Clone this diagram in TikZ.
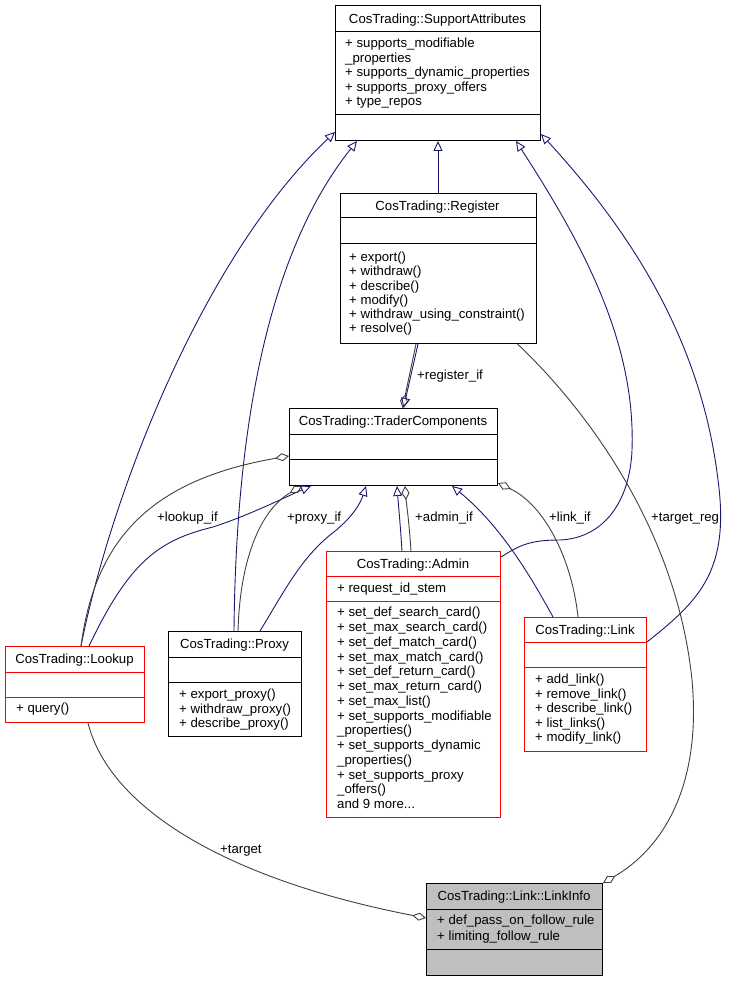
\documentclass[tikz,border=0pt]{standalone}
\usepackage{fontspec}
\setmainfont{Liberation Sans}
\usetikzlibrary{arrows.meta}
\definecolor{navy}{HTML}{191970}
\definecolor{dgray}{HTML}{404040}
\definecolor{boxgray}{HTML}{BFBFBF}
\definecolor{boxred}{HTML}{FF0000}
\begin{document}
\begin{tikzpicture}[x=1pt,y=-1pt,
  font=\fontsize{13.2}{14.5}\selectfont,
  cls/.style={draw, line width=1pt, inner sep=0pt, anchor=north west},
  txt/.style={anchor=west, inner sep=0pt, text height=9.4pt, text depth=0pt},
  ttl/.style={anchor=center, inner sep=0pt, text height=9.4pt, text depth=0pt},
  inh/.style={draw=navy, line width=0.9pt, -{Triangle[open, length=10pt, width=9pt]}},
  agg/.style={draw=dgray, line width=0.9pt, -{Diamond[open, length=14pt, width=8pt]}},
  elbl/.style={anchor=west, inner sep=0pt, text height=9.4pt, text depth=0pt}]
\useasboundingbox (0,0) rectangle (730,981);

% ---------- SupportAttributes
\node[cls, minimum width=205pt, minimum height=135pt] (sa) at (335,5) {};
\draw[line width=1pt] (sa.north west) ++(0,27) -- ++(205,0);
\draw[line width=1pt] (sa.north west) ++(0,110) -- ++(205,0);
\node[ttl] (sat) at (437.5,18.5) {CosTrading::SupportAttributes};
\foreach \t [count=\i from 0] in {{+ supports\_modifiable},{\_properties},{+ supports\_dynamic\_properties},{+ supports\_proxy\_offers},{+ type\_repos}}
  \node[txt] at (345,{43+14.5*\i}) {\t};

% ---------- Register
\node[cls, minimum width=196pt, minimum height=150pt] (reg) at (339.5,193) {};
\draw[line width=1pt] (reg.north west) ++(0,25) -- ++(196,0);
\draw[line width=1pt] (reg.north west) ++(0,51) -- ++(196,0);
\node[ttl] (regt) at (437.5,205.5) {CosTrading::Register};
\foreach \t [count=\i from 0] in {{+ export()},{+ withdraw()},{+ describe()},{+ modify()},{+ withdraw\_using\_constraint()},{+ resolve()}}
  \node[txt] at (349,{257+14.2*\i}) {\t};

% ---------- TraderComponents
\node[cls, minimum width=208pt, minimum height=77pt] (tc) at (289,408) {};
\draw[line width=1pt] (tc.north west) ++(0,26) -- ++(208,0);
\draw[line width=1pt] (tc.north west) ++(0,51) -- ++(208,0);
\node[ttl] (tct) at (393,421) {CosTrading::TraderComponents};

% ---------- Admin
\node[cls, draw=boxred, minimum width=174pt, minimum height=266pt] (admin) at (326,551) {};
\draw[boxred, line width=1pt] (admin.north west) ++(0,25) -- ++(174,0);
\draw[boxred, line width=1pt] (admin.north west) ++(0,50) -- ++(174,0);
\node[ttl] (admint) at (413,563.5) {CosTrading::Admin};
\node[txt] at (337,588) {+ request\_id\_stem};
\foreach \t [count=\i from 0] in {{+ set\_def\_search\_card()},{+ set\_max\_search\_card()},{+ set\_def\_match\_card()},{+ set\_max\_match\_card()},{+ set\_def\_return\_card()},{+ set\_max\_return\_card()},{+ set\_max\_list()},{+ set\_supports\_modifiable},{\_properties()},{+ set\_supports\_dynamic},{\_properties()},{+ set\_supports\_proxy},{\_offers()}}
  \node[txt] at (337,{612+14.77*\i}) {\t};
\node[txt] at (337,804) {and 9 more...};

% ---------- Lookup
\node[cls, draw=boxred, minimum width=139pt, minimum height=76pt] (lookup) at (5,646) {};
\draw[boxred, line width=1pt] (lookup.north west) ++(0,26) -- ++(139,0);
\draw[boxred, line width=1pt] (lookup.north west) ++(0,51) -- ++(139,0);
\node[ttl] (lookupt) at (74.5,659) {CosTrading::Lookup};
\node[txt] at (16,708) {+ query()};

% ---------- Proxy
\node[cls, minimum width=133pt, minimum height=105pt] (proxy) at (168,631) {};
\draw[line width=1pt] (proxy.north west) ++(0,26) -- ++(133,0);
\draw[line width=1pt] (proxy.north west) ++(0,51) -- ++(133,0);
\node[ttl] (proxyt) at (234.5,644) {CosTrading::Proxy};
\foreach \t [count=\i from 0] in {{+ export\_proxy()},{+ withdraw\_proxy()},{+ describe\_proxy()}}
  \node[txt] at (179,{694+14.3*\i}) {\t};

% ---------- Link
\node[cls, draw=boxred, minimum width=122pt, minimum height=134pt] (link) at (524,617) {};
\draw[boxred, line width=1pt] (link.north west) ++(0,25) -- ++(122,0);
\draw[boxred, line width=1pt] (link.north west) ++(0,50) -- ++(122,0);
\node[ttl] (linkt) at (585,629.5) {CosTrading::Link};
\foreach \t [count=\i from 0] in {{+ add\_link()},{+ remove\_link()},{+ describe\_link()},{+ list\_links()},{+ modify\_link()}}
  \node[txt] at (535,{679+14.5*\i}) {\t};

% ---------- LinkInfo
\node[cls, fill=boxgray, minimum width=176pt, minimum height=92pt] (linkinfo) at (426,883) {};
\draw[line width=1pt] (linkinfo.north west) ++(0,26) -- ++(176,0);
\draw[line width=1pt] (linkinfo.north west) ++(0,66) -- ++(176,0);
\node[ttl] (linkinfot) at (514,896) {CosTrading::Link::LinkInfo};
\node[txt] at (437,920) {+ def\_pass\_on\_follow\_rule};
\node[txt] at (437,935.5) {+ limiting\_follow\_rule};

% ---------- inheritance to SupportAttributes
\draw[inh] ([xshift=76pt]lookup.north west) .. controls (110,500) and (200,260) .. ([yshift=9pt]sa.south west);
\draw[inh] ([xshift=66pt]proxy.north west) .. controls (236,420) and (270,250) .. ([xshift=22pt]sa.south west);
\draw[inh] (reg.north) -- (sa.south);
\draw[inh] ([yshift=-6pt]admin.north east) .. controls (520,545) and (530,540) .. (560,540)
  .. controls (605,538) and (630,500) .. (632,450)
  .. controls (636,340) and (580,240) .. ([xshift=-25pt]sa.south east);
\draw[inh] ([yshift=-25pt]link.north east) .. controls (700,600) and (730,570) .. (718,480)
  .. controls (700,330) and (620,220) .. ([yshift=7pt]sa.south east);

% ---------- Register <-> TraderComponents
\draw[agg] ([xshift=-22pt]reg.south) -- ([xshift=9pt]tc.north);
\draw[inh] ([xshift=-20pt]reg.south) -- ([xshift=10pt]tc.north);
\node[elbl] (lreg) at (417,375) {+register\_if};

% ---------- Lookup <-> TraderComponents
\draw[inh] ([xshift=84pt]lookup.north west) .. controls (130,560) and (160,540) .. (213,527)
  .. controls (250,515) and (290,495) .. ([xshift=22pt]tc.south west);
\draw[agg] ([xshift=76pt]lookup.north west) .. controls (95,540) and (150,480) .. ([yshift=-48pt]tc.north west);
\node[elbl] (llook) at (157,517) {+lookup\_if};

% ---------- Proxy <-> TraderComponents
\draw[agg] ([xshift=70pt]proxy.north west) .. controls (240,560) and (260,510) .. ([xshift=13pt]tc.south west);
\draw[inh] ([xshift=92pt]proxy.north west) .. controls (285,590) and (300,560) .. (330,535)
  .. controls (350,520) and (360,505) .. ([xshift=77pt]tc.south west);
\node[elbl] (lprox) at (287,517) {+proxy\_if};

% ---------- Admin <-> TraderComponents
\draw[inh] ([xshift=76pt]admin.north west) .. controls (400,520) and (398,500) .. ([xshift=108pt]tc.south west);
\draw[agg] ([xshift=85pt]admin.north west) .. controls (409,520) and (406,500) .. ([xshift=116pt]tc.south west);
\node[elbl] (ladm) at (415,517) {+admin\_if};

% ---------- Link <-> TraderComponents
\draw[inh] ([xshift=29pt]link.north west) .. controls (530,575) and (500,525) .. ([xshift=163pt]tc.south west);
\draw[agg] ([xshift=54pt]link.north west) .. controls (572,560) and (545,505) .. ([yshift=3pt]tc.south east);
\node[elbl] (llink) at (549,517) {+link\_if};

% ---------- to LinkInfo
\draw[agg] ([xshift=-19pt]reg.south east) .. controls (582,405) and (676,525) .. (692,680)
  .. controls (702,790) and (660,850) .. (linkinfo.north east);
\node[elbl] (ltreg) at (651,517) {+target\_reg};
\draw[agg] ([xshift=83pt]lookup.south west) .. controls (110,810) and (230,880) .. ([yshift=-35pt]linkinfo.north west);
\node[elbl] (ltgt) at (220,849) {+target};
\end{tikzpicture}
\end{document}
